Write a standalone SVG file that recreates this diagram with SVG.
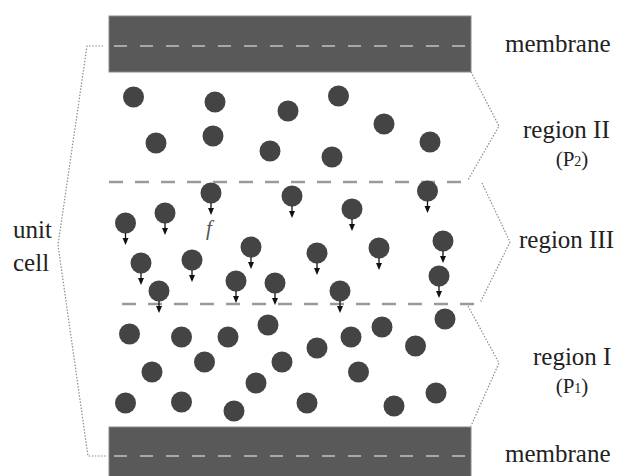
<svg xmlns="http://www.w3.org/2000/svg" xmlns:xlink="http://www.w3.org/1999/xlink" width="619" height="476" viewBox="0 0 619 476">
<style>
.mem{fill:#595959;stroke:#8a8a8a;stroke-width:1}
.memdash{stroke:#a8a8a8;stroke-width:2;stroke-dasharray:13 13;fill:none}
.regdash{stroke:#9a9a9a;stroke-width:2.5;stroke-dasharray:14 12;fill:none}
.brk{stroke:#8c8c8c;stroke-width:1.2;stroke-dasharray:1.5 1.6;fill:none}
.lbl{font-family:'Liberation Serif','DejaVu Serif',serif;font-size:25px;fill:#222}
.sub{font-family:'Liberation Serif','DejaVu Serif',serif;font-size:21px;fill:#222}
.pt{fill:#444}
</style>
<defs>
<circle id="p" r="10.5" class="pt"/>
<g id="pa">
<circle r="10.5" class="pt"/>
<line x1="0" y1="10" x2="0" y2="16" stroke="#111" stroke-width="1.3"/>
<path d="M-3,15 L3,15 L0,22 Z" fill="#111"/>
</g>
</defs>

<g id="membrane-top">
<rect class="mem" x="109" y="16" width="362" height="56"/>
<line class="memdash" x1="114" y1="46" x2="471" y2="46"/>
</g>
<g id="membrane-bottom">
<rect class="mem" x="109" y="427" width="362" height="52"/>
<line class="memdash" x1="114" y1="456" x2="471" y2="456"/>
</g>

<g id="region-boundaries">
<line class="regdash" x1="109" y1="182" x2="468" y2="182"/>
<line class="regdash" x1="122" y1="304" x2="478" y2="304"/>
</g>

<g id="connectors">
<polyline class="brk" points="103,46 87,46 58,245 88,456 107,456"/>
<polyline class="brk" points="471,72 499,126 468,180"/>
<polyline class="brk" points="482,183 510,242 480,303"/>
<polyline class="brk" points="468,306 499,363 471,426"/>
</g>

<g id="region-II-particles">
<use xlink:href="#p" x="133.5" y="97"/>
<use xlink:href="#p" x="215" y="102"/>
<use xlink:href="#p" x="288" y="111"/>
<use xlink:href="#p" x="338.5" y="96"/>
<use xlink:href="#p" x="384" y="124"/>
<use xlink:href="#p" x="430" y="142"/>
<use xlink:href="#p" x="156" y="143"/>
<use xlink:href="#p" x="213" y="136"/>
<use xlink:href="#p" x="270" y="151"/>
<use xlink:href="#p" x="332" y="157"/>
</g>

<g id="region-III-particles">
<use xlink:href="#pa" x="211" y="193"/>
<use xlink:href="#pa" x="292" y="196"/>
<use xlink:href="#pa" x="427.5" y="191"/>
<use xlink:href="#pa" x="125.5" y="223"/>
<use xlink:href="#pa" x="165" y="213"/>
<use xlink:href="#pa" x="352" y="209"/>
<use xlink:href="#pa" x="251" y="247"/>
<use xlink:href="#pa" x="317" y="253"/>
<use xlink:href="#pa" x="379" y="248"/>
<use xlink:href="#pa" x="443" y="241"/>
<use xlink:href="#pa" x="141" y="263"/>
<use xlink:href="#pa" x="192" y="260"/>
<use xlink:href="#pa" x="236" y="281"/>
<use xlink:href="#pa" x="275" y="283"/>
<use xlink:href="#pa" x="340" y="291"/>
<use xlink:href="#pa" x="439" y="276"/>
<use xlink:href="#pa" x="159" y="291"/>
<text x="206" y="235" font-family="'Liberation Serif','DejaVu Serif',serif" font-size="21" font-style="italic" fill="#555">f</text>
</g>

<g id="region-I-particles">
<use xlink:href="#p" x="129.5" y="334"/>
<use xlink:href="#p" x="181.5" y="337"/>
<use xlink:href="#p" x="228" y="337"/>
<use xlink:href="#p" x="268" y="325"/>
<use xlink:href="#p" x="351" y="337"/>
<use xlink:href="#p" x="382" y="327"/>
<use xlink:href="#p" x="445" y="319"/>
<use xlink:href="#p" x="152" y="372"/>
<use xlink:href="#p" x="204.5" y="362"/>
<use xlink:href="#p" x="282" y="362"/>
<use xlink:href="#p" x="317" y="348"/>
<use xlink:href="#p" x="415.5" y="346"/>
<use xlink:href="#p" x="358.5" y="372"/>
<use xlink:href="#p" x="256" y="383"/>
<use xlink:href="#p" x="125.5" y="403"/>
<use xlink:href="#p" x="181.5" y="402"/>
<use xlink:href="#p" x="234" y="411"/>
<use xlink:href="#p" x="307" y="403"/>
<use xlink:href="#p" x="394" y="406"/>
<use xlink:href="#p" x="436" y="393"/>
</g>

<g id="labels">
<text class="lbl" x="505" y="52">membrane</text>
<text class="lbl" x="523" y="138">region II</text>
<text class="sub" x="572" y="166" text-anchor="middle">(P<tspan font-size="14">2</tspan>)</text>
<text class="lbl" x="519" y="248">region III</text>
<text class="lbl" x="533" y="365">region I</text>
<text class="sub" x="572" y="393" text-anchor="middle">(P<tspan font-size="14">1</tspan>)</text>
<text class="lbl" x="505" y="462">membrane</text>
<text class="lbl" x="13" y="238">unit</text>
<text class="lbl" x="13" y="271">cell</text>
</g>
</svg>
